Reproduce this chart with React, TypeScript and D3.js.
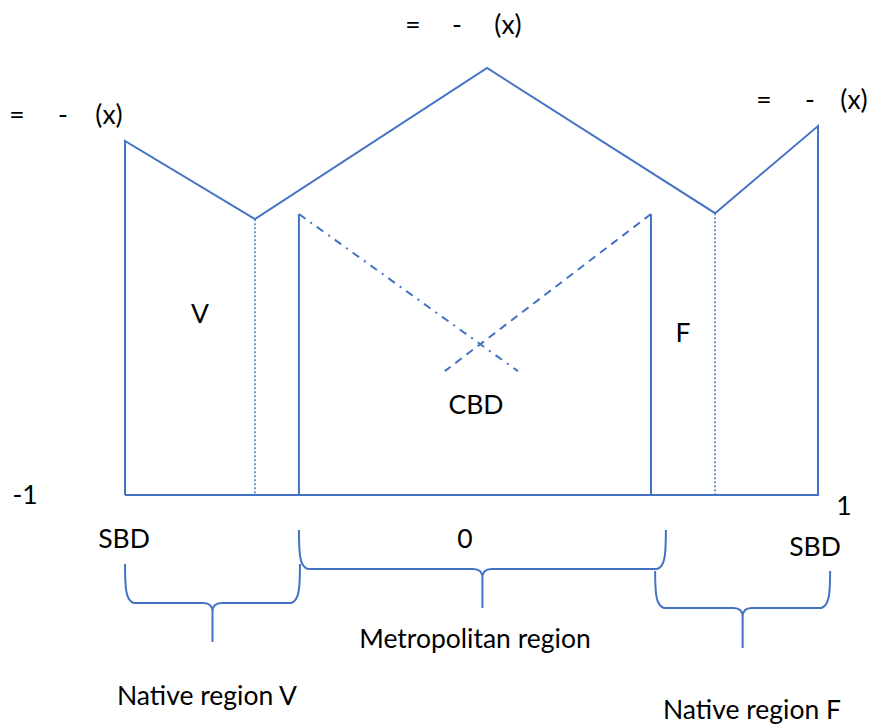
import React from "react";
import * as d3 from "d3";

// ---- data (x in [-1,1], y as fraction of peak height) ----
const outerX = [-1, -0.625, 0.045, 0.703, 1];
const outerY = [0.829, 0.646, 1.0, 0.66, 0.864];
const innerX = [-0.498, 0.518];
const innerTop = 0.658;
const crossLowY = 0.29;
const dashDotEndX = 0.134;
const dashedEndX = -0.077;
const braceSpans = [
  { x1: -1, x2: -0.495, label: "Native region V" },
  { x1: -0.498, x2: 0.561, label: "Metropolitan region" },
  { x1: 0.53, x2: 1.035, label: "Native region F" },
];

const W = 870;
const H = 726;
const BLUE = "#4472C4";
const FONT = "Lato, 'Open Sans', sans-serif";

const x = d3.scaleLinear().domain([-1, 1]).range([125, 818]);
const y = d3.scaleLinear().domain([0, 1]).range([495, 68]);

function bracePath(x1: number, x2: number, y0: number, y1: number, y2: number) {
  const r = 9;
  const xm = (x1 + x2) / 2;
  return [
    `M${x1},${y0}`,
    `C${x1},${y1 - r * 1.5} ${x1 + 1},${y1 - 2} ${x1 + r},${y1}`,
    `L${xm - r},${y1}`,
    `Q${xm},${y1} ${xm},${y1 + r}`,
    `L${xm},${y2}`,
    `M${xm},${y1 + r}`,
    `Q${xm},${y1} ${xm + r},${y1}`,
    `L${x2 - r},${y1}`,
    `C${x2 - 1},${y1 - 2} ${x2},${y1 - r * 1.5} ${x2},${y0}`,
  ].join(" ");
}

export default function App() {
  const outerPts: [number, number][] = outerX.map((v, i) => [x(v), y(outerY[i])]);
  const line = d3.line();
  const outline: [number, number][] = [
    [x(-1), y(0)],
    ...outerPts,
    [x(1), y(0)],
    [x(-1), y(0)],
  ];
  const braceY = [
    [564, 603, 642],
    [530, 569, 608],
    [571, 608, 648],
  ];
  const labelPos = [
    { cx: 207, by: 705 },
    { cx: 475, by: 648 },
    { cx: 752, by: 719 },
  ];
  const fs = 26.5;
  const t = (s: string, cx: number, by: number, anchor: string = "middle", key?: string) => (
    <text key={key ?? s + cx} x={cx} y={by} textAnchor={anchor as any} fontFamily={FONT} fontSize={fs} fill="#000">
      {s}
    </text>
  );
  return (
    <svg width={W} height={H} style={{ position: "absolute", left: 0, top: 0, background: "#fff" }}>
      <path d={line(outline) || ""} fill="none" stroke={BLUE} strokeWidth={2} strokeLinejoin="miter" />
      {/* dotted verticals at valleys */}
      {[1, 3].map((i) => (
        <line key={i} x1={x(outerX[i])} x2={x(outerX[i])} y1={y(outerY[i])} y2={y(0)} stroke={BLUE} strokeWidth={1.5} strokeDasharray="2,2" />
      ))}
      {/* inner metropolitan walls */}
      {innerX.map((v, i) => (
        <line key={"in" + i} x1={x(v)} x2={x(v)} y1={y(innerTop)} y2={y(0)} stroke={BLUE} strokeWidth={2} />
      ))}
      <line x1={x(innerX[0])} y1={y(innerTop)} x2={x(dashDotEndX)} y2={y(crossLowY)} stroke={BLUE} strokeWidth={2} strokeDasharray="8,6,2,6" />
      <line x1={x(innerX[1])} y1={y(innerTop)} x2={x(dashedEndX)} y2={y(crossLowY)} stroke={BLUE} strokeWidth={2} strokeDasharray="8,6" />
      {/* braces */}
      {braceSpans.map((b, i) => (
        <path key={"b" + i} d={bracePath(x(b.x1), x(b.x2), braceY[i][0], braceY[i][1], braceY[i][2])} fill="none" stroke={BLUE} strokeWidth={2} />
      ))}
      {braceSpans.map((b, i) => t(b.label, labelPos[i].cx, labelPos[i].by, "middle", "lab" + i))}
      {/* equation labels */}
      {t("=", 17, 124)}
      {t("-", 63, 124)}
      {t("(x)", 109, 124)}
      {t("=", 413, 34)}
      {t("-", 457, 34)}
      {t("(x)", 508, 34)}
      {t("=", 764, 109)}
      {t("-", 810, 109)}
      {t("(x)", 854, 109)}
      {/* region letters */}
      {t("V", 200, 323)}
      {t("F", 683, 342)}
      {t("CBD", 476, 414)}
      {t("-1", 25, 504)}
      {t("1", 844, 515)}
      {t("SBD", 124, 548)}
      {t("0", 465, 548)}
      {t("SBD", 815, 556)}
    </svg>
  );
}
